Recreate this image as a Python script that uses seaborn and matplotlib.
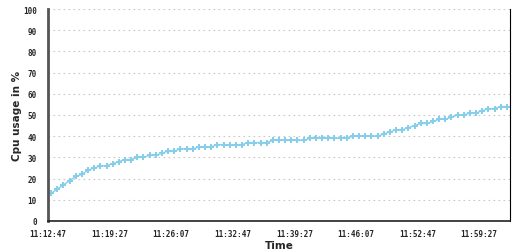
import numpy as np
import pandas as pd
import seaborn as sns
import matplotlib
matplotlib.use('Agg')
import matplotlib.pyplot as plt


# Cpu usage samples, one every 40 s starting at 11:12:47
cpu_usage = [13, 15, 17, 19, 21, 22, 24, 25, 26, 26,
             27, 28, 29, 29, 30, 30, 31, 31, 32, 33,
             33, 34, 34, 34, 35, 35, 35, 36, 36, 36,
             36, 36, 37, 37, 37, 37, 38, 38, 38, 38,
             38, 38, 39, 39, 39, 39, 39, 39, 39, 40,
             40, 40, 40, 40, 41, 42, 43, 43, 44, 45,
             46, 46, 47, 48, 48, 49, 50, 50, 51, 51,
             52, 53, 53, 54, 54]
time_labels = ['11:12:47', '11:19:27', '11:26:07', '11:32:47',
               '11:39:27', '11:46:07', '11:52:47', '11:59:27']
y_ticks = [0, 10, 20, 30, 40, 50, 60, 70, 80, 90, 100]

n = len(cpu_usage)
df = pd.DataFrame({'slot': np.arange(n) + 0.5, 'cpu': cpu_usage})

sns.set_style('white')
plt.rcParams['font.family'] = ['DejaVu Sans']

fig = plt.figure(figsize=(5.16, 2.51), dpi=100)
ax = fig.add_axes([48/516, 1-222/251, 462/516, 212/251])

sns.lineplot(data=df, x='slot', y='cpu', ax=ax, color='#87ceeb',
             marker='P', markersize=4.6, markeredgewidth=0, linewidth=1.0)

ax.set_xlim(0, n)
ax.set_ylim(0, 100)
ax.set_yticks(y_ticks)
ax.set_yticklabels([str(v) for v in y_ticks], family='DejaVu Sans Mono',
                   fontsize=5.5, fontweight='bold')
ax.set_xticks(np.arange(0, n + 1, 5))
labels = []
for i in range(0, n + 1, 5):
    labels.append(time_labels[i // 10] if i % 10 == 0 and i // 10 < len(time_labels) else '')
ax.set_xticklabels(labels, family='DejaVu Sans Mono', fontsize=5.5, fontweight='bold')

ax.yaxis.grid(True, color='#c8c8c8', linestyle=(0, (1.5, 3)), linewidth=0.8)
ax.set_axisbelow(True)

ax.tick_params(axis='y', direction='out', length=6, width=1, color='#333333', pad=2)
ax.tick_params(axis='x', direction='inout', length=8, width=1, color='#333333', pad=2)

ax.spines['top'].set_visible(False)
ax.spines['left'].set_color('#555555')
ax.spines['left'].set_linewidth(2)
ax.spines['bottom'].set_color('#222222')
ax.spines['bottom'].set_linewidth(1.2)
ax.spines['right'].set_color('#000000')
ax.spines['right'].set_linewidth(0.8)

ax.set_xlabel('Time', fontsize=7.5, fontweight='bold', labelpad=1)
ax.set_ylabel('Cpu usage in %', fontsize=7.5, fontweight='bold', labelpad=1)

fig.savefig('out.png', dpi=100)
